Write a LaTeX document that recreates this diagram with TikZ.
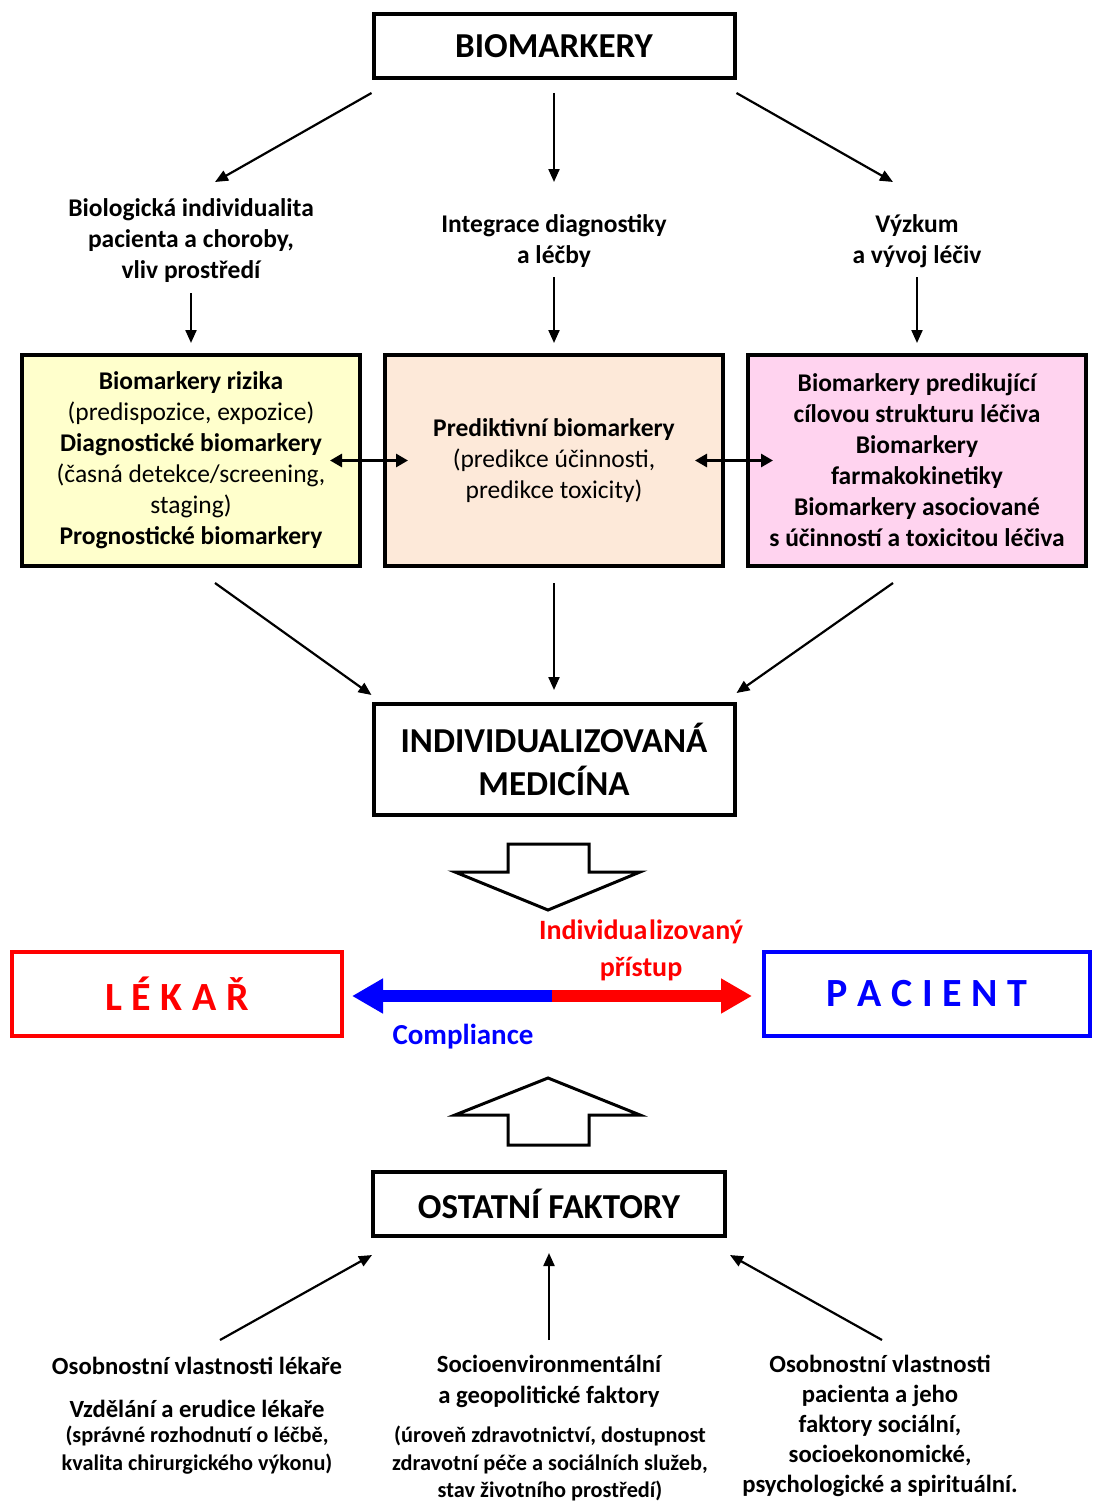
\documentclass[tikz,border=0pt]{standalone}
\usepackage{fontspec}
\setmainfont{Carlito}
\usetikzlibrary{arrows.meta}

\definecolor{boxyellow}{HTML}{FFFFCC}
\definecolor{boxpeach}{HTML}{FDE9D9}
\definecolor{boxpink}{HTML}{FFD3EF}
\definecolor{docred}{HTML}{FF0000}
\definecolor{patblue}{HTML}{0000FF}

\newcommand{\gap}{\hspace{0.24em}}

\begin{document}
\begin{tikzpicture}[x=1pt,y=-1pt,
  frame/.style={draw=black,line width=4pt,inner sep=0pt,align=center},
  headbox/.style={frame,minimum width=361pt,minimum height=64pt,
    font=\fontsize{35}{43}\selectfont\bfseries},
  midbox/.style={frame,minimum width=338pt,minimum height=211pt,
    font=\fontsize{25.5}{31}\selectfont},
  lab/.style={align=center,inner sep=0pt,font=\fontsize{25.5}{31}\selectfont\bfseries},
  bottomlab/.style={align=center,inner sep=0pt,font=\fontsize{24.7}{30}\selectfont\bfseries},
  small/.style={align=center,inner sep=0pt,font=\fontsize{22.3}{27.5}\selectfont\bfseries},
  arr/.style={line width=2.2pt,-{Triangle[length=13pt,width=11pt]}},
  darr/.style={line width=2.8pt,{Triangle[length=12pt,width=13pt]}-{Triangle[length=12pt,width=13pt]}},
  block/.style={draw=black,line width=3pt,fill=white,line join=miter},
  person/.style={line width=4pt,inner sep=0pt,minimum height=84pt,
    font=\fontsize{40}{44}\selectfont\bfseries},
  thick arrow/.style={line width=12pt,-{Triangle[length=31pt,width=33pt]}}
]
\useasboundingbox (0,0) rectangle (1093,1501);

% top level
\node[headbox] (bio) at (554,46) {BIOMARKERY};

\node[lab] (l1) at (191,241) {Biologická individualita\\pacienta a choroby,\\vliv prostředí};
\node[lab] (l2) at (554,241.5) {Integrace diagnostiky\\a léčby};
\node[lab] (l3) at (917,241.5) {Výzkum\\a vývoj léčiv};

\draw[arr] ([yshift=-13pt]bio.south west) -- ([xshift=24pt,yshift=59pt]l1.center);
\draw[arr] ([yshift=-13pt]bio.south) -- ([yshift=59.5pt]l2.center);
\draw[arr] ([yshift=-13pt]bio.south east) -- ([xshift=-24pt,yshift=59.5pt]l3.center);

% three biomarker groups
\node[midbox,fill=boxyellow] (b1) at (191,460.5)
  {\textbf{Biomarkery rizika}\\(predispozice, expozice)\\\textbf{Diagnostické biomarkery}\\(časná detekce/screening,\\staging)\\\textbf{Prognostické biomarkery}};
\node[midbox,fill=boxpeach] (b2) at (554,460.5)
  {\textbf{Prediktivní biomarkery}\\(predikce účinnosti,\\predikce toxicity)};
\node[midbox,fill=boxpink,font=\fontsize{25.5}{31}\selectfont\bfseries] (b3) at (917,460.5)
  {Biomarkery predikující\\cílovou strukturu léčiva\\Biomarkery\\farmakokinetiky\\Biomarkery asociované\\s účinností a toxicitou léčiva};

\draw[arr] ([yshift=-52pt]l1.center) -- ([yshift=10pt]b1.north);
\draw[arr] ([yshift=-35.5pt]l2.center) -- ([yshift=10pt]b2.north);
\draw[arr] ([yshift=-35.5pt]l3.center) -- ([yshift=10pt]b3.north);

\draw[darr] ([xshift=-32pt]b1.east) -- ([xshift=25pt]b2.west);
\draw[darr] ([xshift=-30pt]b2.east) -- ([xshift=27pt]b3.west);

% individualised medicine
\node[headbox,minimum height=111pt] (im) at (554,759.5)
  {INDIVIDUALIZOVANÁ\\MEDICÍNA};

\draw[arr] ([xshift=24pt,yshift=-15pt]b1.south) -- ([yshift=7pt]im.north west);
\draw[arr] ([yshift=-15pt]b2.south) -- ([yshift=12pt]im.north);
\draw[arr] ([xshift=-24pt,yshift=-15pt]b3.south) -- ([yshift=9pt]im.north east);

% hollow block arrow pointing down
\draw[block] (508,844) -- (589,844) -- (589,872) -- (640,872) -- (548,910)
  -- (455,872) -- (508,872) -- cycle;

% doctor and patient
\node[person,draw=docred,text=docred,minimum width=330pt] (lek) at (177,994)
  {L\gap É\gap K\gap A\gap Ř};
\node[person,draw=patblue,text=patblue,minimum width=326pt] (pac) at (927,994)
  {P\gap A\gap C\gap I\gap E\gap N\gap T};

\coordinate (mid) at (552,996);
\draw[thick arrow,patblue] (mid) -- ([xshift=8pt,yshift=-2pt]lek.east);
\draw[thick arrow,docred] (mid) -- ([xshift=-10pt,yshift=-2pt]pac.west);

\node[lab,text=docred,font=\fontsize{28}{37}\selectfont\bfseries] (ind) at (641,950.5)
  {Individua\hspace{0.06em}lizovaný\\přístup};
\node[lab,text=patblue,font=\fontsize{29}{30}\selectfont\bfseries] (comp) at (463,1037) {Compliance};

% hollow block arrow pointing up
\draw[block] (548,1078) -- (640,1115) -- (589,1115) -- (589,1145) -- (508,1145)
  -- (508,1115) -- (455,1115) -- cycle;

% other factors
\node[headbox,minimum width=352pt] (of) at (549,1204) {OSTATNÍ FAKTORY};

\node[bottomlab] (bl1) at (197,1366) {Osobnostní vlastnosti lékaře};
\node[bottomlab] (bl2) at (197,1409) {Vzdělání a erudice lékaře};
\node[small] (bl3) at (197,1450) {(správné rozhodnutí o léčbě,\\kvalita chirurgického výkonu)};

\node[bottomlab,font=\fontsize{24.7}{31}\selectfont\bfseries] (bc1) at (549,1381.5) {Socioenvironmentální\\a geopolitické faktory};
\node[small] (bc2) at (550,1463.5) {(úroveň zdravotnictví, dostupnost\\zdravotní péče a sociálních služeb,\\stav životního prostředí)};

\node[bottomlab] (br) at (880,1426)
  {Osobnostní vlastnosti\\pacienta a jeho\\faktory sociální,\\socioekonomické,\\psychologické a spirituální.};

\draw[arr] ([xshift=23pt,yshift=26pt]bl1.center) -- ([xshift=1pt,yshift=-17pt]of.south west);
\draw[arr] ([yshift=41.5pt]bc1.center) -- ([yshift=-15pt]of.south);
\draw[arr] ([xshift=2pt,yshift=86pt]br.center) -- ([xshift=3pt,yshift=-17pt]of.south east);

\end{tikzpicture}
\end{document}
